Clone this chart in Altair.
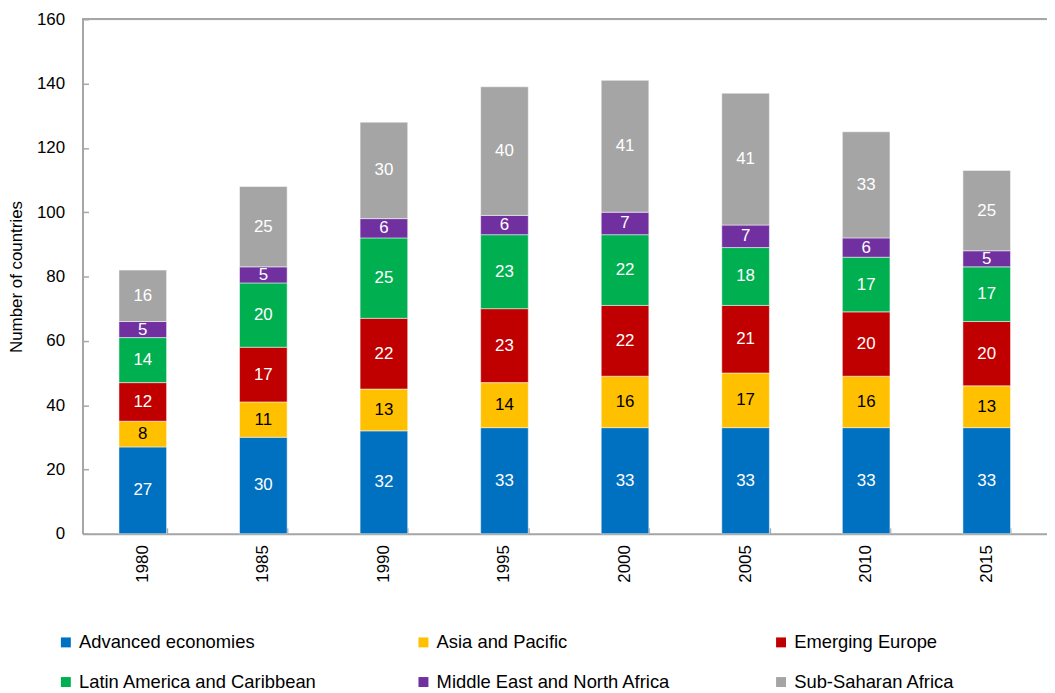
import altair as alt
import pandas as pd

years = ["1980", "1985", "1990", "1995", "2000", "2005", "2010", "2015"]
regions = ["Advanced economies", "Asia and Pacific", "Emerging Europe",
           "Latin America and Caribbean", "Middle East and North Africa", "Sub-Saharan Africa"]
advanced = [27, 30, 32, 33, 33, 33, 33, 33]
asia = [8, 11, 13, 14, 16, 17, 16, 13]
emerging = [12, 17, 22, 23, 22, 21, 20, 20]
latin = [14, 20, 25, 23, 22, 18, 17, 17]
mena = [5, 5, 6, 6, 7, 7, 6, 5]
ssa = [16, 25, 30, 40, 41, 41, 33, 25]
colors = ["#0070C0", "#FFC000", "#C00000", "#00B050", "#7030A0", "#A5A5A5"]
label_colors = ["white", "black", "white", "white", "white", "white"]

series = [advanced, asia, emerging, latin, mena, ssa]
rows = []
for j, yr in enumerate(years):
    cum = 0
    for i, reg in enumerate(regions):
        v = series[i][j]
        rows.append({"year": yr, "region": reg, "value": v, "idx": i,
                     "mid": cum + v / 2, "lc": label_colors[i]})
        cum += v
df = pd.DataFrame(rows)

FONT = "Liberation Sans"
GRAY = "#A6A6A6"
W, H = 971, 518

xscale = alt.Scale(paddingInner=0.605, paddingOuter=0.3025)
yscale = alt.Scale(domain=[0, 160], nice=False)

bars = alt.Chart(df).mark_bar(stroke="white", strokeWidth=0.5).encode(
    x=alt.X("year:N", scale=xscale, sort=years, title=None,
            axis=alt.Axis(labelAngle=270, labelFontSize=17, labelFont=FONT, labelColor="black",
                          labelPadding=11, ticks=False, domainColor=GRAY, domainWidth=2)),
    y=alt.Y("value:Q", stack="zero", scale=yscale, title="Number of countries",
            axis=alt.Axis(values=list(range(0, 161, 20)), labelFontSize=17, labelFont=FONT,
                          labelColor="black", labelPadding=18, ticks=False, grid=False,
                          domainColor=GRAY, domainWidth=2, titleFont=FONT, titleFontSize=17,
                          titleFontWeight="normal", titleColor="black", titlePadding=11)),
    color=alt.Color("region:N", scale=alt.Scale(domain=regions, range=colors),
                    legend=alt.Legend(orient="none", legendX=-26, legendY=618, columns=3,
                                      direction="horizontal", gridAlign="all",
                                      title=None, symbolType="square", symbolSize=100,
                                      symbolStrokeWidth=0, labelFontSize=18.5, labelFont=FONT,
                                      labelColor="black", columnPadding=97, rowPadding=21,
                                      labelOffset=4, labelLimit=400)),
    order=alt.Order("idx:Q"),
)

labels = alt.Chart(df).mark_text(fontSize=17, font=FONT).encode(
    x=alt.X("year:N", scale=xscale, sort=years, title=None,
            axis=alt.Axis(orient="bottom", labels=False, domain=False, ticks=True, tickSize=6,
                          tickBand="extent", offset=-6, tickColor=GRAY, tickWidth=1.5)),
    y=alt.Y("mid:Q", scale=yscale, title=None,
            axis=alt.Axis(orient="left", values=list(range(0, 161, 20)), labels=False,
                          domain=False, ticks=True, tickSize=6, offset=-6, tickColor=GRAY,
                          tickWidth=1.5, grid=False)),
    text=alt.Text("value:Q"),
    color=alt.Color("lc:N", scale=None),
)

top = alt.Chart(df).mark_rule(color=GRAY, strokeWidth=1.5).encode(
    y=alt.YDatum(160, axis=None)
)

chart = alt.layer(bars, labels, top).resolve_axis(x="independent", y="independent").properties(
    width=W, height=H, padding={"left": 75, "top": 9, "right": 0, "bottom": 158},
    autosize=alt.AutoSizeParams(type="none")
).configure_view(stroke=None).configure(background="white")

chart.save("out.html", embed_options={"renderer": "svg", "actions": False})
